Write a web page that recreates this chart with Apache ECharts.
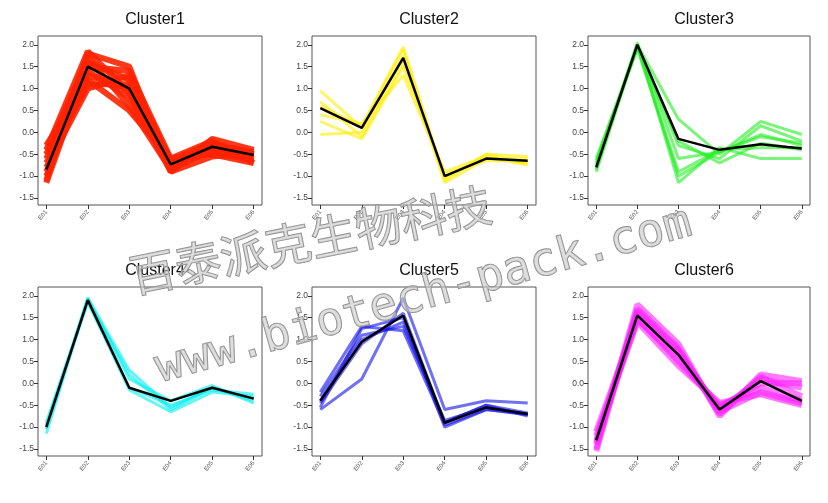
<!DOCTYPE html>
<html><head><meta charset="utf-8">
<script src="https://cdn.jsdelivr.net/npm/echarts@6/dist/echarts.min.js"></script>
<style>html,body{margin:0;background:#fff}#c{width:828px;height:503px}</style>
</head><body><div id="c"></div>
<script>
var samples = ["E01", "E02", "E03", "E04", "E05", "E06"];
var titles = ["Cluster1", "Cluster2", "Cluster3", "Cluster4", "Cluster5", "Cluster6"];
var colors = ["#ff2200", "#ffee00", "#22ee22", "#00eeee", "#1111ee", "#ff22ff"];

// member profiles per cluster
var cluster1 = [
  [-1.1, 1.8, 1.5, -0.9, -0.15, -0.4], [-0.3, 1.2, 0.5, -0.6, -0.5, -0.7],
  [-0.6, 1.6, 1.2, -0.8, -0.3, -0.45], [-1.0, 1.4, 0.8, -0.7, -0.45, -0.65],
  [-0.8, 1.0, 1.3, -0.65, -0.25, -0.5], [-0.5, 1.7, 0.6, -0.85, -0.4, -0.6],
  [-0.9, 1.3, 1.0, -0.75, -0.35, -0.55], [-1.15, 1.5, 1.4, -0.6, -0.2, -0.7],
  [-0.4, 1.85, 0.9, -0.9, -0.55, -0.45], [-0.7, 1.1, 1.1, -0.8, -0.3, -0.5]
];
var cluster2 = [
  [0.95, 0.1, 1.9, -1.1, -0.5, -0.55], [0.7, -0.1, 1.6, -1.0, -0.6, -0.7],
  [0.4, 0.2, 1.3, -0.9, -0.55, -0.75], [-0.05, 0.0, 1.75, -1.15, -0.6, -0.6],
  [0.6, 0.15, 1.95, -1.05, -0.5, -0.7], [0.25, -0.15, 1.5, -0.95, -0.65, -0.65]
];
var cluster3 = [
  [-0.85, 2.0, 0.3, -0.5, 0.25, -0.05], [-0.7, 1.95, -0.3, -0.6, 0.15, -0.2],
  [-0.9, 2.0, -0.6, -0.45, -0.05, -0.3], [-0.6, 1.9, -0.9, -0.4, -0.35, -0.35],
  [-0.8, 2.05, -1.15, -0.35, -0.6, -0.6], [-0.75, 2.0, -0.2, -0.7, -0.25, -0.4],
  [-0.65, 1.95, -1.0, -0.45, -0.1, -0.25]
];
var cluster4 = [
  [-1.15, 1.95, 0.3, -0.55, -0.1, -0.35], [-0.9, 1.9, -0.15, -0.65, -0.2, -0.3],
  [-1.05, 1.95, 0.1, -0.4, -0.05, -0.45], [-0.95, 1.85, -0.1, -0.5, -0.15, -0.25],
  [-1.0, 1.9, 0.2, -0.6, -0.1, -0.4]
];
var cluster5 = [
  [-0.6, 0.1, 1.95, -0.6, -0.4, -0.45], [-0.2, 1.3, 1.2, -0.95, -0.6, -0.7],
  [-0.45, 0.9, 1.6, -0.9, -0.5, -0.75], [-0.3, 1.1, 1.3, -0.85, -0.55, -0.7],
  [-0.55, 1.25, 1.5, -1.0, -0.6, -0.72], [-0.4, 1.0, 1.4, -0.9, -0.5, -0.68]
];
var cluster6 = [
  [-1.5, 1.8, 0.9, -0.75, 0.2, 0.05], [-1.2, 1.4, 0.4, -0.45, -0.25, -0.5],
  [-1.4, 1.6, 0.7, -0.6, 0.1, -0.1], [-1.1, 1.5, 0.5, -0.5, -0.1, -0.4],
  [-1.55, 1.7, 0.8, -0.7, 0.15, -0.3], [-1.3, 1.45, 0.6, -0.55, 0.0, 0.0],
  [-1.35, 1.65, 0.75, -0.65, -0.2, -0.45]
];
var centers = [
  [-0.85, 1.5, 1.0, -0.73, -0.33, -0.52],
  [0.55, 0.1, 1.7, -1.0, -0.6, -0.65],
  [-0.8, 2.0, -0.15, -0.4, -0.27, -0.37],
  [-1.0, 1.9, -0.1, -0.4, -0.1, -0.35],
  [-0.4, 0.95, 1.55, -0.9, -0.55, -0.7],
  [-1.3, 1.55, 0.65, -0.6, 0.05, -0.4]
];
var members = [cluster1, cluster2, cluster3, cluster4, cluster5, cluster6];
var yTicks = [-1.5, -1.0, -0.5, 0.0, 0.5, 1.0, 1.5, 2.0];
var xTicks = [1, 2, 3, 4, 5, 6];

var cols = [[38, 262], [312, 536], [588, 810]];
var rows = [[36, 205], [287, 456]];
var grids = [], xAxes = [], yAxes = [], series = [], titleOpts = [];

for (var i = 0; i < 6; i++) {
  var c = cols[i % 3], r = rows[Math.floor(i / 3)];
  grids.push({left: c[0], width: c[1] - c[0], top: r[0], height: r[1] - r[0],
    show: true, borderColor: '#555', borderWidth: 1});
  titleOpts.push({text: titles[i], left: (c[0] + c[1]) / 2, top: r[0] - 29, textAlign: 'center',
    textStyle: {fontFamily: 'Liberation Sans', fontSize: 16, fontWeight: 'normal', color: '#111'}});
  xAxes.push({type: 'value', gridIndex: i, min: 0.8, max: 6.2, interval: 1,
    axisLine: {show: false, onZero: false}, splitLine: {show: false},
    axisLabel: {fontSize: 6, color: '#555', rotate: 50, margin: 6, customValues: xTicks,
      formatter: function (v) { return samples[Math.round(v) - 1] || ''; }},
    axisTick: {show: true, customValues: xTicks, length: 4, lineStyle: {color: '#333', width: 1}}});
  yAxes.push({type: 'value', gridIndex: i, min: -1.66, max: 2.2,
    axisLine: {show: false, onZero: false}, splitLine: {show: false},
    axisTick: {show: true, length: 4, customValues: yTicks, lineStyle: {color: '#333', width: 1}},
    axisLabel: {fontSize: 8.5, color: '#444', margin: 4, customValues: yTicks,
      formatter: function (v) { return v.toFixed(1); }}});
  members[i].forEach(function (m) {
    series.push({type: 'line', xAxisIndex: i, yAxisIndex: i, symbol: 'none', silent: true,
      data: m.map(function (v, k) { return [k + 1, v]; }),
      lineStyle: {color: colors[i], width: i === 0 || i === 5 ? 6 : 3, opacity: i === 0 ? 0.9 : 0.6}});
  });
  series.push({type: 'line', xAxisIndex: i, yAxisIndex: i, symbol: 'none', silent: true, z: 5,
    data: centers[i].map(function (v, k) { return [k + 1, v]; }),
    lineStyle: {color: '#000', width: 2.5}});
}

var chart = echarts.init(document.getElementById('c'));
chart.setOption({
  animation: false,
  title: titleOpts, grid: grids, xAxis: xAxes, yAxis: yAxes, series: series,
  graphic: [
    {type: 'text', left: 125, top: 180, rotation: 0.2, z: 100,
      style: {text: '百泰派克生物科技', fontSize: 46, fontFamily: 'Noto Sans CJK SC',
        fill: 'rgba(200,200,200,0.6)', stroke: '#888', lineWidth: 1.2}},
    {type: 'text', left: 150, top: 200, rotation: 0.27, z: 100,
      style: {text: 'www.biotech-pack.com', fontSize: 46, fontFamily: 'DejaVu Sans Mono',
        fill: 'rgba(200,200,200,0.6)', stroke: '#888', lineWidth: 1.2}}
  ]
});
</script></body></html>
